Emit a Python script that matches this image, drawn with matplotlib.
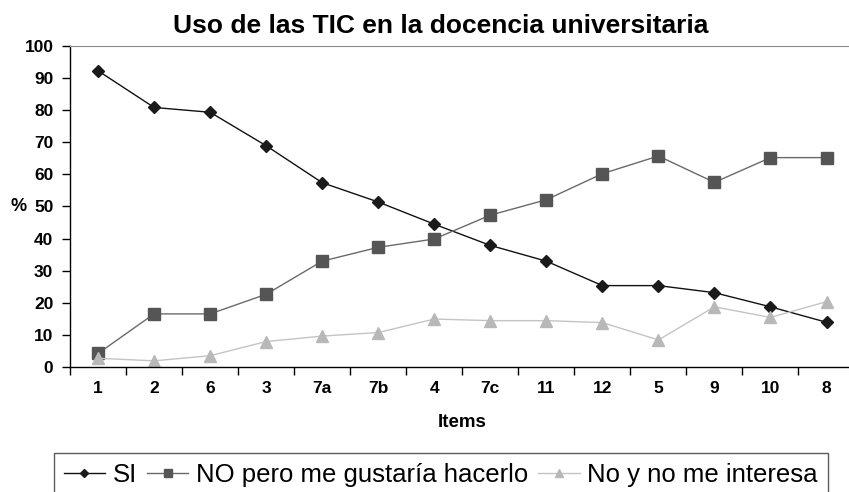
import matplotlib.pyplot as plt

plt.rcParams['font.family'] = ['Liberation Sans', 'DejaVu Sans']

# Datos del grafico
items = ['1', '2', '6', '3', '7a', '7b', '4', '7c', '11', '12', '5', '9', '10', '8']
si = [92.2, 80.8, 79.3, 68.9, 57.4, 51.4, 44.5, 37.9, 33.0, 25.4, 25.4, 23.2, 18.8, 14.0]
no_gustaria = [4.3, 16.6, 16.6, 22.7, 33.0, 37.3, 39.9, 47.3, 52.1, 60.2, 65.7, 57.5, 65.2, 65.2]
no_interesa = [2.8, 2.0, 3.6, 8.0, 9.7, 10.8, 15.0, 14.5, 14.5, 13.9, 8.5, 18.8, 15.5, 20.4]
y_ticks = [0, 10, 20, 30, 40, 50, 60, 70, 80, 90, 100]

fig = plt.figure(figsize=(8.49, 4.92), dpi=100)
ax = fig.add_axes([0.0825, 0.2535, 0.924, 0.6536])

x = range(len(items))
ax.plot(x, si, color='#111111', lw=1.0, marker='D', ms=6.2, mfc='#1a1a1a', mec='#1a1a1a', label='SI')
ax.plot(x, no_gustaria, color='#6a6a6a', lw=1.0, marker='s', ms=8.5, mfc='#555555', mec='#555555',
        label='NO pero me gustaría hacerlo')
ax.plot(x, no_interesa, color='#c4c4c4', lw=1.0, marker='^', ms=8.8, mfc='#b8b8b8', mec='#b8b8b8',
        label='No y no me interesa')

ax.set_xlim(-0.5, len(items) - 0.5)
ax.set_ylim(0, 100)
ax.set_yticks(y_ticks)
ax.set_yticklabels([str(v) for v in y_ticks], fontweight='bold', fontsize=12.5)
ax.set_xticks(list(x))
ax.set_xticklabels(items, fontweight='bold', fontsize=12.5)
ax.set_xticks([i - 0.5 for i in range(len(items) + 1)], minor=True)
ax.tick_params(axis='x', which='major', length=0, pad=10)
ax.tick_params(axis='x', which='minor', length=6, direction='out', width=1)
ax.tick_params(axis='y', length=6, direction='out', width=1, pad=6)

ax.spines['right'].set_visible(False)
ax.spines['top'].set_color('#8c8c8c')
ax.spines['left'].set_linewidth(1)
ax.spines['bottom'].set_linewidth(1)

ax.set_title('Uso de las TIC en la docencia universitaria', fontsize=19, fontweight='bold', pad=9,
             x=0.472)
ax.set_xlabel('Items', fontsize=13.5, fontweight='bold', labelpad=13)
ax.set_ylabel('%', fontsize=13, fontweight='bold', rotation=0, va='center', ha='center')
ax.yaxis.set_label_coords(-0.066, 0.5)

leg = fig.legend(loc='upper left', bbox_to_anchor=(0.0636, 0.0793), ncol=3, fontsize=18.5,
                 frameon=True, fancybox=False, edgecolor='#333333', handlelength=1.6,
                 handletextpad=0.3, columnspacing=0.4, borderpad=0.38, borderaxespad=0,
                 markerscale=0.7)
leg.get_frame().set_linewidth(1)

fig.savefig('out.png', dpi=100)
